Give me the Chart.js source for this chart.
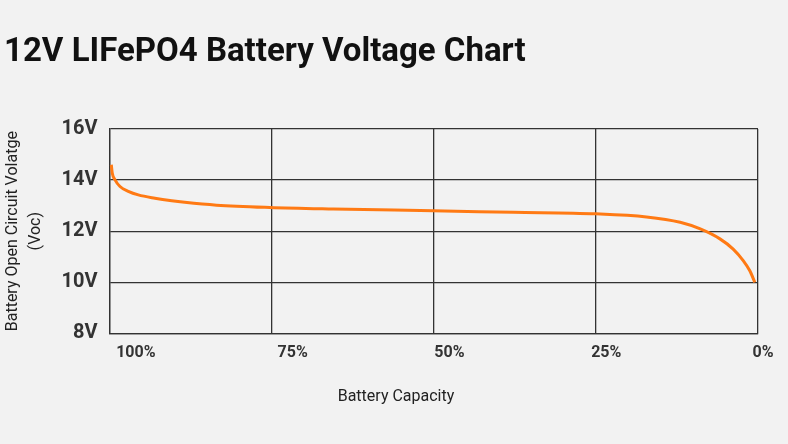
<!DOCTYPE html>
<html>
<head>
<meta charset="utf-8">
<script src="https://cdn.jsdelivr.net/npm/chart.js@4"></script>
<style>
  html, body { margin: 0; padding: 0; background: #f2f2f2; }
  #wrap { width: 788px; height: 444px; }
</style>
</head>
<body>
<div id="wrap"><canvas id="chartVoltage"></canvas></div>
<script>
// Capacity (%) and open circuit voltage (V)
const capacity = [99.72, 99.57, 99.15, 98.38, 97.1, 95.56, 93.0, 90.4, 88.4, 83.5, 75.3, 65.5, 50.1, 37.7, 25.0, 17.2, 12.0, 8.9, 5.87, 3.83, 2.28, 1.26, 0.49];
const voltage  = [14.60, 14.27, 14.01, 13.75, 13.56, 13.42, 13.29, 13.19, 13.13, 13.02, 12.93, 12.87, 12.80, 12.74, 12.68, 12.56, 12.35, 12.09, 11.70, 11.30, 10.85, 10.45, 10.0];

const yTickLabels = ['8V', '10V', '12V', '14V', '16V'];
const xTickValues = [100, 75, 50, 25, 0];
const xTickLabels = ['100%', '75%', '50%', '25%', '0%'];

const gridColor = '#333333';
const fontFamily = 'Roboto, "Noto Sans", sans-serif';

Chart.defaults.font.family = fontFamily;

const ctx = document.getElementById('chartVoltage').getContext('2d');
const chartVoltage = new Chart(ctx, {
    type: 'line',
    data: {
        datasets: [{
            label: 'Open Circuit Voltage',
            data: capacity.map((c, i) => ({ x: c, y: voltage[i] })),
            borderColor: '#ff7a14',
            borderWidth: 3,
            pointRadius: 0,
            fill: false,
            cubicInterpolationMode: 'monotone'
        }]
    },
    options: {
        responsive: true,
        maintainAspectRatio: false,
        animation: false,
        layout: { padding: { left: 4, right: 0, top: 0, bottom: 0 } },
        scales: {
            x: {
                type: 'linear',
                min: 0,
                max: 100,
                reverse: true,
                ticks: { stepSize: 25, display: false },
                grid: { color: gridColor, lineWidth: 1.3, drawTicks: false },
                border: { color: gridColor, width: 1.3 }
            },
            // label axis: the labels sit a little right of the grid lines
            xLabels: {
                type: 'linear',
                position: 'bottom',
                min: 0.8,
                max: 104.2,
                reverse: true,
                afterBuildTicks: (scale) => {
                    scale.ticks = xTickValues.map(v => ({ value: v }));
                },
                ticks: {
                    autoSkip: false,
                    maxRotation: 0,
                    padding: 10,
                    color: '#333333',
                    font: { size: 16, weight: 'bold' },
                    callback: (value, index) => xTickLabels[index]
                },
                grid: { display: false, drawTicks: false },
                border: { display: false }
            },
            y: {
                min: 8,
                max: 16,
                ticks: {
                    stepSize: 2,
                    padding: 12,
                    color: '#333333',
                    font: { size: 20, weight: 'bold' },
                    callback: (value, index) => yTickLabels[index]
                },
                grid: { color: gridColor, lineWidth: 1.3, drawTicks: false },
                border: { color: gridColor, width: 1.3 },
                title: {
                    display: true,
                    text: ['Battery Open Circuit Volatge', '(Voc)'],
                    color: '#222222',
                    font: { size: 16, lineHeight: 1.45 },
                    padding: { top: -3, bottom: 0 }
                },
                afterFit: (scale) => { scale.width = 105.5; }
            },
            yRight: {
                type: 'linear',
                position: 'right',
                ticks: { display: false },
                grid: { display: false, drawTicks: false },
                border: { display: false },
                afterFit: (scale) => { scale.width = 30; }
            }
        },
        plugins: {
            legend: { display: false },
            tooltip: { enabled: false },
            title: {
                display: true,
                text: '12V LIFePO4 Battery Voltage Chart',
                align: 'start',
                color: '#111111',
                font: { size: 33, weight: 'bold' },
                padding: { top: 33.4, bottom: 56 }
            },
            subtitle: {
                display: true,
                position: 'bottom',
                text: 'Battery Capacity',
                color: '#222222',
                font: { size: 16, weight: 'normal' },
                padding: { top: 14.3, bottom: 37.9 }
            }
        }
    }
});
</script>
</body>
</html>
